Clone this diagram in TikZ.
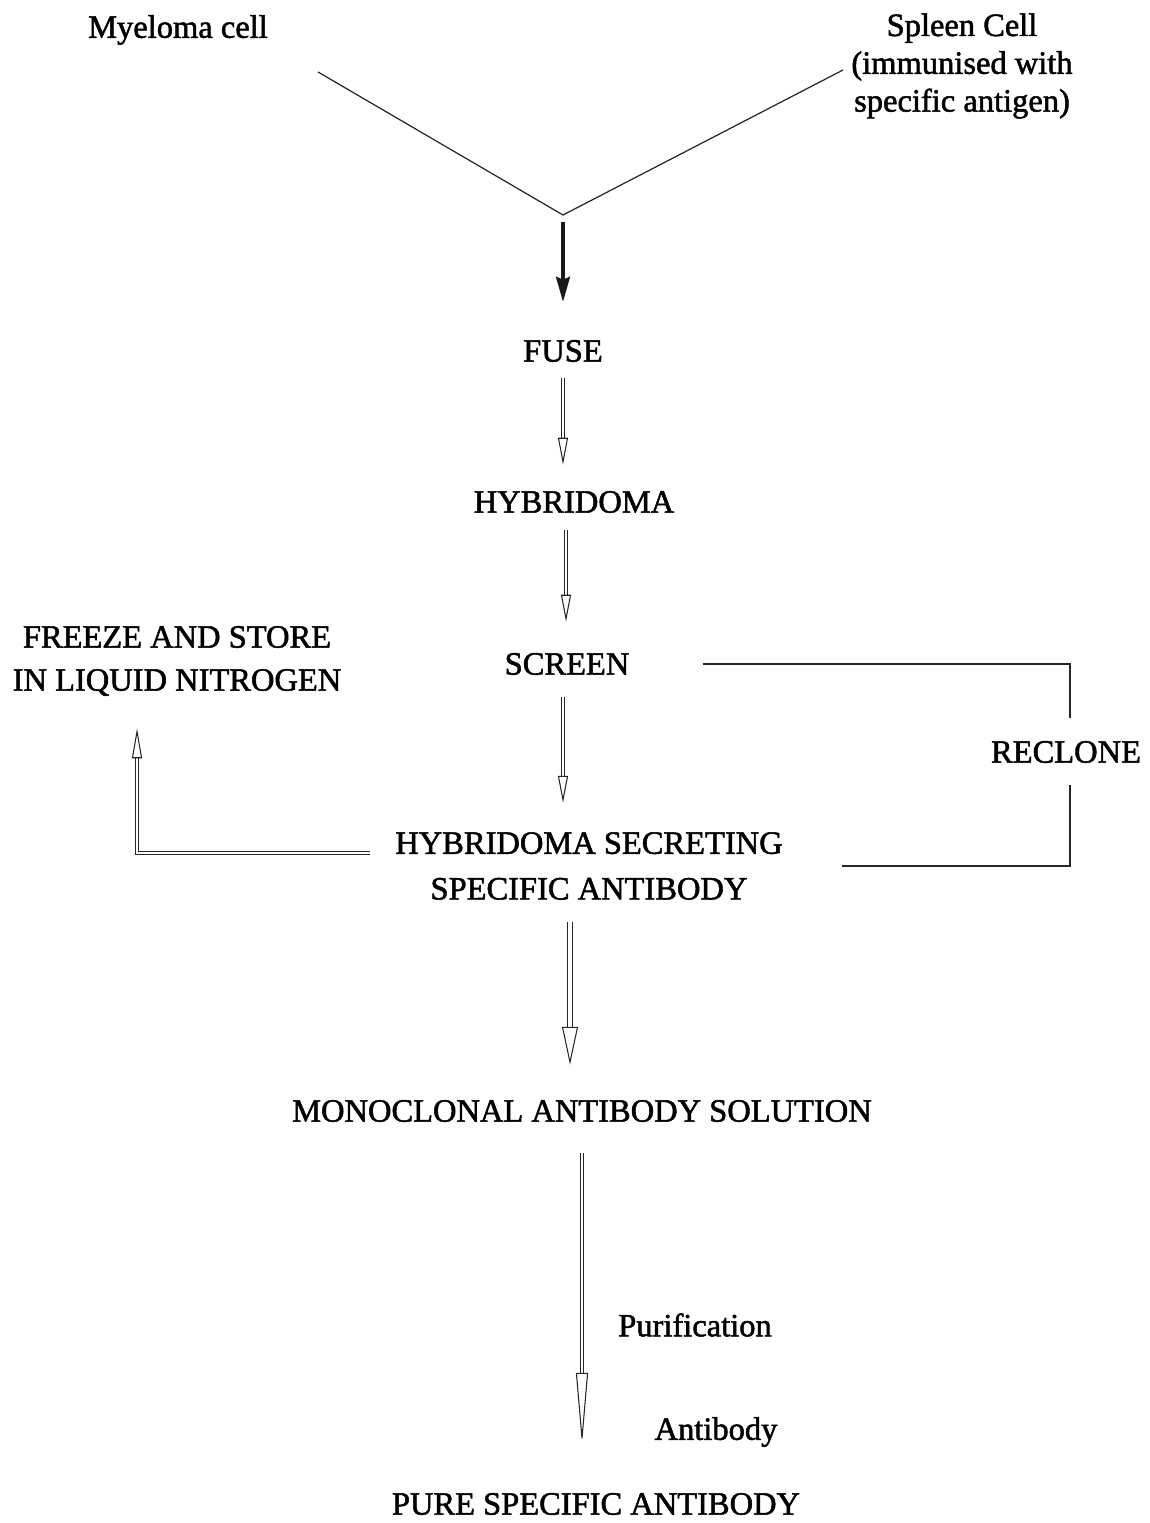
\documentclass[tikz,border=0pt]{standalone}
\usepackage{fontspec}
\setmainfont{Liberation Serif}[UprightFeatures={FakeBold=1.6}]
\usetikzlibrary{arrows.meta}

\begin{document}
\begin{tikzpicture}[x=0.02cm, y=-0.02cm,
    every node/.style={inner sep=0pt, font=\fontsize{18.5}{22.7}\selectfont},
    thinline/.style={draw=black!85, line width=0.7pt},
    boldarrow/.style={draw=black!90, line width=1.8pt, -{Stealth[length=0.5cm, width=0.28cm, inset=0.06cm]}},
    dbl/.style={draw=black!85, line width=0.45pt, double=white, double distance=0.04cm,
        -{Triangle[open, length=0.54cm, width=0.2cm, line width'=0.6pt]}}]
    \useasboundingbox (0,0) rectangle (1149,1523);
    % 节点
    \node (myeloma) at (178,30) {Myeloma cell};
    \node[align=center, font=\fontsize{18.5}{21.5}\selectfont] (spleen) at (962,66) {Spleen Cell\\(immunised with\\specific antigen)};
    \coordinate (vl) at (318,72);
    \coordinate (vr) at (843,70);
    \coordinate (jn) at (563,215);
    \node (fuse) at (563,351) {FUSE};
    \node (hyb) at (574,502) {HYBRIDOMA};
    \node (screen) at (567,664) {SCREEN};
    \node[align=center, font=\fontsize{18.5}{24.5}\selectfont] (freeze) at (177,661) {FREEZE AND STORE\\IN LIQUID NITROGEN};
    \node[align=center, font=\fontsize{18.5}{26}\selectfont] (hsec) at (589,866) {HYBRIDOMA SECRETING\\SPECIFIC ANTIBODY};
    \node (reclone) at (1066,752) {RECLONE};
    \node (mas) at (582,1111) {MONOCLONAL ANTIBODY SOLUTION};
    \node (purif) at (695,1325) {Purification};
    \node (antib) at (716,1432) {Antibody};
    \node (pure) at (596,1504) {PURE SPECIFIC ANTIBODY};
    % 融合
    \draw[thinline] (vl) -- (jn) -- (vr);
    \draw[boldarrow, shorten <=0.14cm, shorten >=0.76cm] (jn) -- (fuse);
    % 主流程
    \draw[dbl, shorten <=0.32cm, shorten >=0.52cm] (fuse.south) -- (fuse.south |- hyb.north);
    \draw[dbl, shorten <=0.34cm, shorten >=0.62cm] ([xshift=-0.16cm]hyb.south) -- ([xshift=-0.16cm]hyb.south |- screen.north);
    \draw[dbl, shorten <=0.44cm, shorten >=0.58cm] ([xshift=-0.08cm]screen.south) -- ([xshift=-0.08cm]screen.south |- hsec.north);
    \draw[dbl, double distance=0.08cm, -{Triangle[open, length=0.76cm, width=0.32cm, line width'=0.6pt]},
        shorten <=0.44cm, shorten >=0.7cm] ([xshift=-0.38cm]hsec.south) -- ([xshift=-0.38cm]hsec.south |- mas.north);
    \draw[dbl, -{Triangle[open, length=1.44cm, width=0.24cm, line width'=0.6pt]},
        shorten <=0.62cm, shorten >=0.96cm] (mas.south) -- (mas.south |- pure.north);
    % 冻存
    \draw[dbl, -{Triangle[open, length=0.6cm, width=0.2cm, line width'=0.6pt]},
        shorten <=0.5cm, shorten >=0.64cm] ([yshift=0.26cm]hsec.west) -| ([xshift=-0.8cm]freeze.south);
    % 再克隆
    \draw[thinline, shorten <=1.46cm, shorten >=0.46cm] (screen.east) -| ([xshift=0.08cm]reclone.north);
    \draw[thinline, shorten <=0.44cm, shorten >=1.18cm] ([xshift=0.08cm]reclone.south) |- (hsec.east);
\end{tikzpicture}
\end{document}
